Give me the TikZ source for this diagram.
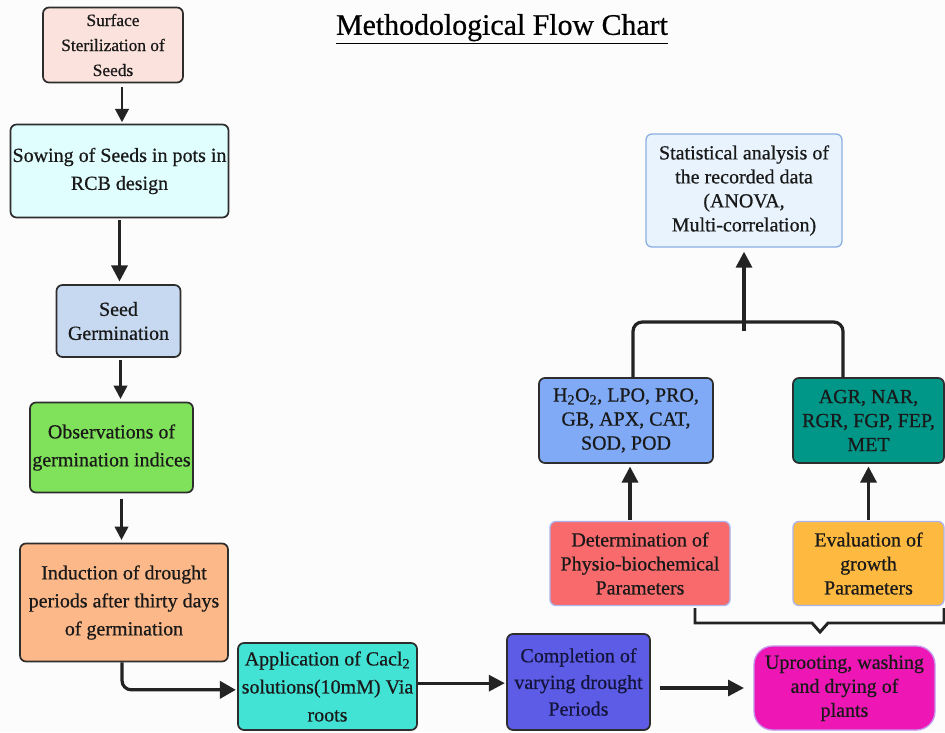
\documentclass[tikz,border=0pt]{standalone}
\usepackage{fontspec}
\setmainfont{Liberation Serif}[FakeBold=0.6]
\usetikzlibrary{arrows.meta,calc}
\definecolor{bgc}{RGB}{252,252,252}
\definecolor{bord}{RGB}{45,45,45}
\definecolor{txt}{RGB}{25,25,25}
\definecolor{arrc}{RGB}{35,35,35}
\definecolor{cSurf}{RGB}{252,226,220}
\definecolor{cSow}{RGB}{224,254,254}
\definecolor{cSeed}{RGB}{198,217,240}
\definecolor{cObs}{RGB}{128,226,90}
\definecolor{cInd}{RGB}{252,184,136}
\definecolor{cApp}{RGB}{66,226,212}
\definecolor{cComp}{RGB}{92,92,230}
\definecolor{cUp}{RGB}{238,22,180}
\definecolor{cUpB}{RGB}{196,150,240}
\definecolor{cDet}{RGB}{248,106,108}
\definecolor{cEva}{RGB}{254,186,64}
\definecolor{cLtB}{RGB}{170,180,235}
\definecolor{cH}{RGB}{128,170,245}
\definecolor{cAgr}{RGB}{0,150,136}
\definecolor{cStat}{RGB}{232,243,253}
\definecolor{cStatB}{RGB}{138,176,226}
\begin{document}
\begin{tikzpicture}[x=0.75pt,y=-0.75pt,
  box/.style={draw=bord, line width=1.3pt, rounded corners=4.5pt, align=center,
    inner sep=0pt, text=txt, font=\fontsize{15}{21}\selectfont},
  tight/.style={font=\fontsize{15}{18}\selectfont},
  lbox/.style={box, line width=1pt},
  arr/.style={draw=arrc, line width=2.4pt, -{Triangle[length=12pt,width=12pt]}},
  arrs/.style={draw=arrc, line width=2pt, -{Triangle[length=10pt,width=10pt]}},
  link/.style={draw=arrc, line width=2.4pt, rounded corners=7pt}]
\useasboundingbox[fill=bgc] (0,0) rectangle (945,732);

\node[font=\fontsize{22.4}{26}\selectfont, text=black] (title) at (502,29) {\underline{Methodological Flow Chart}};

\node[box, fill=cSurf, minimum width=105pt, minimum height=56.25pt, font=\fontsize{13}{18.75}\selectfont] (s1) at (113,45) {Surface\\Sterilization of\\Seeds};
\node[box, fill=cSow, minimum width=163.5pt, minimum height=69.75pt] (s2) at (119.5,171) {Sowing of Seeds in pots in\\RCB design};
\node[box, fill=cSeed, minimum width=93pt, minimum height=54pt, tight] (s3) at (118.5,321) {Seed\\Germination};
\node[box, fill=cObs, minimum width=122.25pt, minimum height=67.5pt] (s4) at (111.5,447.5) {Observations of\\germination indices};
\node[box, fill=cInd, minimum width=156pt, minimum height=88.5pt] (s5) at (124,602.5) {Induction of drought\\periods after thirty days\\of germination};
\node[box, fill=cApp, minimum width=134.25pt, minimum height=65.25pt] (s6) at (327.5,686.5) {Application of Cacl\textsubscript{2}\\solutions(10mM) Via\\roots};
\node[box, fill=cComp, minimum width=107.25pt, minimum height=72pt, font=\fontsize{15}{20}\selectfont, text={rgb,255:red,20;green,20;blue,60}] (s7) at (578.5,682) {Completion of\\varying drought\\Periods};
\node[lbox, draw=cUpB, fill=cUp, minimum width=135.75pt, minimum height=63pt, rounded corners=14pt, tight] (s8) at (844.5,688) {Uprooting, washing\\and drying of\\plants};
\node[lbox, draw=cLtB, fill=cDet, minimum width=135pt, minimum height=63pt, tight] (s9) at (640,563.5) {Determination of\\Physio-biochemical\\Parameters};
\node[lbox, draw=cLtB, fill=cEva, minimum width=113.25pt, minimum height=63pt, tight] (s10) at (868.5,563.5) {Evaluation of\\growth\\Parameters};
\node[box, fill=cH, minimum width=130.5pt, minimum height=63.75pt, tight] (s11) at (626,420.5) {H\textsubscript{2}O\textsubscript{2}, LPO, PRO,\\GB, APX, CAT,\\SOD, POD};
\node[box, fill=cAgr, minimum width=113.25pt, minimum height=63.75pt, tight] (s12) at (868.5,420.5) {AGR, NAR,\\RGR, FGP, FEP,\\MET};
\node[lbox, draw=cStatB, fill=cStat, minimum width=147pt, minimum height=84.75pt, tight] (s13) at (744,190.5) {Statistical analysis of\\the recorded data\\(ANOVA,\\Multi-correlation)};

% left column
\draw[arrs, shorten <=3pt, shorten >=1pt] ([xshift=6.75pt]s1.south) -- ([xshift=6.75pt]s1.south |- s2.north);
\draw[arr, shorten <=1.5pt, shorten >=2pt] (s2.south) -- (s2.south |- s3.north);
\draw[arrs, shorten <=1.5pt, shorten >=2pt] ([xshift=1.5pt]s3.south) -- ([xshift=1.5pt]s3.south |- s4.north);
\draw[arrs, shorten <=4pt, shorten >=2pt] ([xshift=7.5pt]s4.south) -- ([xshift=7.5pt]s4.south |- s5.north);
\draw[link, -{Triangle[length=12pt,width=13pt]}, shorten >=1pt] ([xshift=-1.5pt]s5.south) |- ([yshift=-2.5pt]s6.west);
% bottom row
\draw[arr, shorten >=1pt] ([yshift=2.5pt]s6.east) -- ([yshift=2.5pt]s6.east -| s7.west);
\draw[arr, shorten <=7pt, shorten >=7pt] (s7.east |- s8.west) -- (s8.west);
% bracket from the two parameter boxes to uprooting
\coordinate (bl) at (695,608);
\coordinate (br) at (944,608);
\coordinate (bn) at (820,632);
\draw[link, rounded corners=0pt, line width=2.2pt] (bl) -- (695,623) -- (812,623) -- (bn) -- (828,623) -- (944,623) -- (br);
% up arrows
\draw[arr, shorten <=1pt, shorten >=2pt] ([xshift=-7.5pt]s9.north) -- ([xshift=-7.5pt]s9.north |- s11.south);
\draw[arr, shorten <=1pt, shorten >=2pt] (s10.north) -- (s10.north |- s12.south);
% join to statistics
\coordinate (jl) at (633,322);
\coordinate (jr) at (843,322);
\coordinate (jm) at (744,331);
\draw[link] ([xshift=5.25pt]s11.north) |- (jr) -- (s12.north -| jr);
\draw[arr, shorten >=3pt] (jm) -- (jm |- s13.south);
\end{tikzpicture}
\end{document}
